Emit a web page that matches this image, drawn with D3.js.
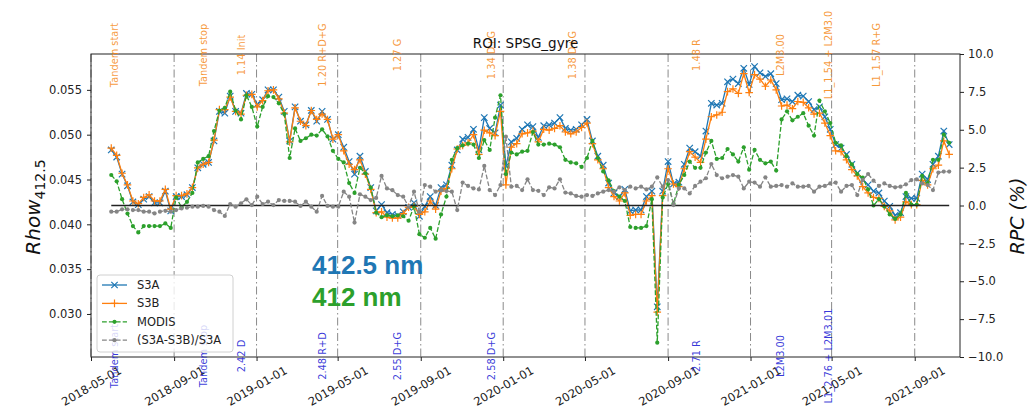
<!DOCTYPE html>
<html>
<head>
<meta charset="utf-8">
<script src="https://cdn.jsdelivr.net/npm/d3@7"></script>
<style>
  body { margin: 0; background: #fff; }
  svg { display: block; font-family: "DejaVu Sans", sans-serif; }
</style>
</head>
<body>
<svg width="1033" height="408"></svg>
<script>
"use strict";

// 8-day composites starting at this date
const firstDate = "2018-05-31";
const stepDays = 8;

const s3a = [
  0.0483, 0.0475, 0.0456, 0.0443, 0.0425, 0.0422, 0.0428, 0.0431, 0.0424, 0.0424,
  0.0437, 0.0415, 0.0431, 0.0431, 0.0433, 0.0441, 0.0463, 0.0467, 0.0469, 0.0493,
  0.0526, 0.0524, 0.0543, 0.0526, 0.0524, 0.0546, 0.0545, 0.0534, 0.0539, 0.0550,
  0.0550, 0.0542, 0.0526, 0.0493, 0.0531, 0.0515, 0.0511, 0.0527, 0.0515, 0.0526,
  0.0517, 0.0495, 0.0500, 0.0486, 0.0470, 0.0456, 0.0476, 0.0459, 0.0441, 0.0415,
  0.0422, 0.0413, 0.0411, 0.0410, 0.0414, 0.0419, 0.0424, 0.0409, 0.0420, 0.0431,
  0.0421, 0.0441, 0.0444, 0.0466, 0.0483, 0.0495, 0.0497, 0.0506, 0.0483, 0.0519,
  0.0507, 0.0502, 0.0533, 0.0465, 0.0492, 0.0496, 0.0506, 0.0511, 0.0509, 0.0497,
  0.0510, 0.0511, 0.0513, 0.0519, 0.0507, 0.0505, 0.0506, 0.0511, 0.0517, 0.0493,
  0.0476, 0.0466, 0.0446, 0.0435, 0.0431, 0.0439, 0.0415, 0.0416, 0.0416, 0.0431,
  0.0437, 0.0308, 0.0437, 0.0470, 0.0445, 0.0447, 0.0467, 0.0485, 0.0481, 0.0476,
  0.0504, 0.0535, 0.0533, 0.0535, 0.0559, 0.0562, 0.0557, 0.0574, 0.0556, 0.0576,
  0.0569, 0.0565, 0.0568, 0.0557, 0.0539, 0.0540, 0.0537, 0.0544, 0.0543, 0.0537,
  0.0528, 0.0531, 0.0520, 0.0506, 0.0489, 0.0485, 0.0478, 0.0467, 0.0457, 0.0450,
  0.0444, 0.0437, 0.0435, 0.0426, 0.0420, 0.0410, 0.0413, 0.0431, 0.0429, 0.0429,
  0.0456, 0.0450, 0.0467, 0.0476, 0.0504, 0.0489
];

const s3b = [
  0.0485, 0.0477, 0.0457, 0.0444, 0.0426, 0.0423, 0.0430, 0.0433, 0.0426, 0.0426,
  0.0439, 0.0417, 0.0432, 0.0432, 0.0434, 0.0441, 0.0463, 0.0467, 0.0469, 0.0494,
  0.0528, 0.0528, 0.0542, 0.0526, 0.0523, 0.0544, 0.0545, 0.0531, 0.0538, 0.0549,
  0.0550, 0.0540, 0.0524, 0.0492, 0.0530, 0.0515, 0.0510, 0.0527, 0.0517, 0.0523,
  0.0517, 0.0495, 0.0500, 0.0482, 0.0467, 0.0461, 0.0472, 0.0456, 0.0439, 0.0413,
  0.0414, 0.0408, 0.0407, 0.0407, 0.0412, 0.0419, 0.0420, 0.0411, 0.0414, 0.0426,
  0.0417, 0.0437, 0.0440, 0.0462, 0.0484, 0.0488, 0.0491, 0.0500, 0.0478, 0.0505,
  0.0502, 0.0499, 0.0526, 0.0444, 0.0486, 0.0490, 0.0501, 0.0502, 0.0504, 0.0492,
  0.0506, 0.0505, 0.0507, 0.0510, 0.0503, 0.0501, 0.0503, 0.0508, 0.0513, 0.0490,
  0.0472, 0.0462, 0.0441, 0.0431, 0.0426, 0.0435, 0.0410, 0.0411, 0.0411, 0.0426,
  0.0432, 0.0302, 0.0432, 0.0462, 0.0445, 0.0442, 0.0462, 0.0481, 0.0475, 0.0469,
  0.0495, 0.0520, 0.0522, 0.0525, 0.0548, 0.0551, 0.0546, 0.0568, 0.0547, 0.0567,
  0.0562, 0.0554, 0.0561, 0.0550, 0.0532, 0.0533, 0.0529, 0.0537, 0.0536, 0.0530,
  0.0523, 0.0524, 0.0513, 0.0499, 0.0482, 0.0481, 0.0472, 0.0461, 0.0454, 0.0442,
  0.0435, 0.0430, 0.0429, 0.0420, 0.0415, 0.0405, 0.0408, 0.0425, 0.0422, 0.0422,
  0.0449, 0.0444, 0.0462, 0.0466, 0.0493, 0.0478
];

const modis = [
  0.0455, 0.0448, 0.0428, 0.0412, 0.0398, 0.0391, 0.0398, 0.0398, 0.0398, 0.0398,
  0.0401, 0.0396, 0.0430, 0.0419, 0.0425, 0.0435, 0.0469, 0.0473, 0.0476, 0.0504,
  0.0527, 0.0530, 0.0548, 0.0527, 0.0517, 0.0544, 0.0531, 0.0509, 0.0531, 0.0543,
  0.0542, 0.0535, 0.0523, 0.0474, 0.0507, 0.0493, 0.0496, 0.0500, 0.0499, 0.0506,
  0.0498, 0.0482, 0.0473, 0.0469, 0.0446, 0.0435, 0.0463, 0.0457, 0.0441, 0.0413,
  0.0408, 0.0410, 0.0409, 0.0410, 0.0409, 0.0404, 0.0420, 0.0389, 0.0385, 0.0396,
  0.0384, 0.0411, 0.0431, 0.0472, 0.0485, 0.0488, 0.0490, 0.0489, 0.0474, 0.0494,
  0.0483, 0.0519, 0.0544, 0.0456, 0.0480, 0.0478, 0.0481, 0.0482, 0.0503, 0.0489,
  0.0489, 0.0490, 0.0489, 0.0486, 0.0472, 0.0469, 0.0468, 0.0464, 0.0474, 0.0493,
  0.0474, 0.0459, 0.0449, 0.0437, 0.0431, 0.0426, 0.0397, 0.0396, 0.0396, 0.0398,
  0.0428, 0.0268, 0.0430, 0.0445, 0.0423, 0.0444, 0.0455, 0.0470, 0.0463, 0.0463,
  0.0480, 0.0493, 0.0473, 0.0474, 0.0484, 0.0478, 0.0470, 0.0486, 0.0461, 0.0483,
  0.0472, 0.0468, 0.0470, 0.0460, 0.0517, 0.0526, 0.0516, 0.0520, 0.0524, 0.0510,
  0.0499, 0.0538, 0.0526, 0.0513, 0.0491, 0.0488, 0.0476, 0.0467, 0.0456, 0.0452,
  0.0439, 0.0421, 0.0428, 0.0420, 0.0411, 0.0406, 0.0411, 0.0435, 0.0422, 0.0422,
  0.0454, 0.0446, 0.0472, 0.0472, 0.0500, 0.0491
];

// (S3A-S3B)/S3A in %, right axis
const rpc = [
  -0.41, -0.41, -0.25, -0.25, -0.30, -0.30, -0.41, -0.41, -0.52, -0.41,
  -0.35, -0.41, -0.30, -0.19, -0.15, -0.08, -0.08, -0.03, -0.08, -0.30,
  -0.41, -0.69, 0.10, -0.08, 0.15, 0.41, 0.03, 0.58, 0.10, 0.25,
  0.03, 0.36, 0.30, 0.30, 0.25, -0.03, 0.25, -0.08, -0.41, 0.63,
  -0.03, -0.08, -0.08, 0.91, 0.58, -1.13, 0.74, 0.58, 0.36, 0.50,
  1.95, 1.13, 1.01, 0.69, 0.58, -0.08, 0.91, -0.41, 1.35, 1.24,
  0.91, 0.99, 0.95, 0.91, -0.30, 1.51, 1.29, 1.13, 1.06, 2.61,
  1.02, 0.69, 1.35, 4.54, 1.24, 1.29, 1.02, 1.73, 1.02, 0.97,
  0.69, 1.20, 1.13, 1.73, 0.85, 0.80, 0.63, 0.58, 0.69, 0.63,
  0.80, 0.91, 1.02, 0.91, 1.20, 1.02, 1.24, 1.13, 1.24, 1.06,
  1.24, 1.86, 1.24, 1.68, 0.03, 1.13, 1.13, 0.80, 1.29, 1.57,
  1.80, 2.74, 2.01, 1.80, 1.90, 2.01, 1.90, 1.13, 1.57, 1.51,
  1.24, 1.86, 1.24, 1.29, 1.35, 1.24, 1.46, 1.24, 1.24, 1.29,
  0.91, 1.24, 1.29, 1.46, 1.51, 0.91, 1.29, 1.35, 0.69, 1.68,
  2.08, 1.64, 1.29, 1.46, 1.29, 1.20, 1.24, 1.40, 1.68, 1.73,
  1.46, 1.35, 1.02, 2.17, 2.24, 2.24
];

// processing events: S3A labels on top, S3B labels below
const eventDates = ["2018-06-05", "2018-10-14", "2018-12-10", "2019-04-09", "2019-07-29",
  "2019-12-15", "2020-04-13", "2020-10-13", "2021-02-14", "2021-04-26", "2021-07-06"];
const topLabels = ["Tandem start", "Tandem stop", "1.14 Init", "1.20 R+D+G", "1.27 G",
  "1.34 D+G", "1.38 D+G", "1.48 R", "L2M3.00", "L1_1.54 + L2M3.0", "L1_1.57 R+G"];
const bottomLabels = ["Tandem start", "Tandem stop", "2.42 D", "2.48 R+D", "2.55 D+G",
  "2.58 D+G", null, "2.71 R", "L2M3.00", "L1_2.76 + L2M3.01", null];

const leftTicks = [0.030, 0.035, 0.040, 0.045, 0.050, 0.055];
const rightTicks = [-10, -7.5, -5, -2.5, 0, 2.5, 5, 7.5, 10];
const seriesNames = ["S3A", "S3B", "MODIS", "(S3A-S3B)/S3A"];

const svg = d3.select("svg");
// plot box in pixels
const pL = 91, pR = 960, pT = 54, pB = 357;

const parse = d3.utcParse("%Y-%m-%d");
const start = parse(firstDate);
const dates = s3a.map((_, i) => d3.utcDay.offset(start, i * stepDays));

const xScale = d3.scaleUtc()
  .domain([parse("2018-05-01"), parse("2021-11-07")])
  .range([pL, pR]);
const yLeft = d3.scaleLinear().domain([0.0252, 0.0590]).range([pB, pT]);
const yRight = d3.scaleLinear().domain([-10, 10]).range([pB, pT]);

const xTicks = xScale.ticks(d3.utcMonth.every(4));

// dash-dot grid at every date tick
svg.append("g")
  .selectAll("line")
  .data(xTicks)
  .enter()
  .append("line")
  .attr("x1", (d) => xScale(d))
  .attr("x2", (d) => xScale(d))
  .attr("y1", pT)
  .attr("y2", pB)
  .attr("stroke", "#8a8a8a")
  .attr("stroke-width", 1)
  .attr("stroke-dasharray", "8,3,1.5,3");

// marker shapes, matplotlib style
const markers = {
  x: "M-3.2,-3.2L3.2,3.2M-3.2,3.2L3.2,-3.2",
  plus: "M-3.8,0L3.8,0M0,-3.8L0,3.8"
};

const series = [
  { name: seriesNames[0], values: s3a, y: yLeft, color: "#1f77b4", dash: null, marker: "x" },
  { name: seriesNames[1], values: s3b, y: yLeft, color: "#ff7f0e", dash: null, marker: "plus" },
  { name: seriesNames[2], values: modis, y: yLeft, color: "#2ca02c", dash: "4.8,2.1", marker: "dot" },
  { name: seriesNames[3], values: rpc, y: yRight, color: "#858585", dash: "4.8,2.1", marker: "dot" }
];

function drawSeries(g, s) {
  const pts = s.values.map((v, i) => ({ date: dates[i], v: v }));
  const line = d3.line().x((d) => xScale(d.date)).y((d) => s.y(d.v));
  g.append("path")
    .datum(pts)
    .attr("d", line)
    .attr("fill", "none")
    .attr("stroke", s.color)
    .attr("stroke-width", 1.3)
    .attr("stroke-dasharray", s.dash);
  if (s.marker === "dot") {
    g.selectAll("circle.m")
      .data(pts)
      .enter()
      .append("circle")
      .attr("cx", (d) => xScale(d.date))
      .attr("cy", (d) => s.y(d.v))
      .attr("r", 2.1)
      .attr("fill", s.color);
  } else {
    g.selectAll("path.m")
      .data(pts)
      .enter()
      .append("path")
      .attr("class", "m")
      .attr("transform", (d) => `translate(${xScale(d.date)},${s.y(d.v)})`)
      .attr("d", markers[s.marker])
      .attr("stroke", s.color)
      .attr("stroke-width", 1.2);
  }
}

const plot = svg.append("g");
series.slice(0, 3).forEach((s) => drawSeries(plot.append("g"), s));

// right axis: zero line then the ratio
plot.append("line")
  .attr("x1", xScale(dates[0]))
  .attr("x2", xScale(dates[dates.length - 1]))
  .attr("y1", yRight(0))
  .attr("y2", yRight(0))
  .attr("stroke", "#222")
  .attr("stroke-width", 1.4);
drawSeries(plot.append("g"), series[3]);

// axes
const xAxis = d3.axisBottom(xScale)
  .tickValues(xTicks)
  .tickFormat(d3.utcFormat("%Y-%m-%d"))
  .tickSize(4);
const xg = svg.append("g")
  .attr("transform", `translate(0, ${pB})`)
  .call(xAxis);
xg.selectAll("text")
  .attr("y", 0)
  .attr("dy", 0)
  .attr("text-anchor", "middle")
  .attr("dominant-baseline", "central")
  .attr("transform", "translate(0, 29) rotate(-30)");

const yAxisL = d3.axisLeft(yLeft).tickValues(leftTicks).tickFormat(d3.format(".3f")).tickSize(4).tickPadding(5);
svg.append("g").attr("transform", `translate(${pL}, 0)`).call(yAxisL);

const yAxisR = d3.axisRight(yRight).tickValues(rightTicks).tickFormat(d3.format(".1f")).tickSize(4).tickPadding(4);
svg.append("g").attr("transform", `translate(${pR}, 0)`).call(yAxisR);

svg.selectAll(".domain").remove();
svg.selectAll(".tick text").attr("font-size", 11.5).attr("fill", "#222").attr("font-family", "DejaVu Sans");
svg.selectAll(".tick line").attr("stroke", "#222");

svg.append("rect")
  .attr("x", pL)
  .attr("y", pT)
  .attr("width", pR - pL)
  .attr("height", pB - pT)
  .attr("fill", "none")
  .attr("stroke", "#222")
  .attr("stroke-width", 1);

// event annotations
const events = eventDates.map((d, i) => ({ date: parse(d), up: topLabels[i], down: bottomLabels[i] }));
svg.append("g")
  .selectAll("text")
  .data(events)
  .enter()
  .append("text")
  .attr("transform", (d) => `translate(${xScale(d.date)}, ${pT + 1}) rotate(-90)`)
  .attr("text-anchor", "middle")
  .attr("dominant-baseline", "central")
  .attr("font-size", 9.8)
  .attr("fill", "rgba(245,135,20,0.85)")
  .text((d) => d.up);

svg.append("g")
  .selectAll("text")
  .data(events.filter((d) => d.down))
  .enter()
  .append("text")
  .attr("transform", (d) => `translate(${xScale(d.date)}, ${pB - 1}) rotate(-90)`)
  .attr("text-anchor", "middle")
  .attr("dominant-baseline", "central")
  .attr("font-size", 9.8)
  .attr("fill", "rgba(20,20,210,0.85)")
  .text((d) => d.down);

// title and axis labels
svg.append("text")
  .attr("x", (pL + pR) / 2)
  .attr("y", 48)
  .attr("text-anchor", "middle")
  .attr("font-size", 13.5)
  .attr("fill", "#111")
  .text("ROI: SPSG_gyre");

const yl = svg.append("text")
  .attr("transform", "translate(40, 207) rotate(-90)")
  .attr("text-anchor", "middle")
  .attr("font-size", 20)
  .attr("font-style", "italic")
  .attr("fill", "#111");
yl.append("tspan").text("Rhow");
yl.append("tspan").attr("font-size", 14).attr("font-style", "normal").attr("dy", 5).text("412.5");

svg.append("text")
  .attr("transform", "translate(1024, 216) rotate(-90)")
  .attr("text-anchor", "middle")
  .attr("font-size", 19)
  .attr("font-style", "italic")
  .attr("fill", "#111")
  .text("RPC (%)");

// band annotations
svg.append("text")
  .attr("x", 312).attr("y", 274)
  .attr("font-family", "Liberation Sans, Arial, sans-serif")
  .attr("font-weight", "bold").attr("font-size", 26)
  .attr("fill", "#1f77b4")
  .text("412.5 nm");
svg.append("text")
  .attr("x", 312).attr("y", 306)
  .attr("font-family", "Liberation Sans, Arial, sans-serif")
  .attr("font-weight", "bold").attr("font-size", 26)
  .attr("fill", "#2ca02c")
  .text("412 nm");

// legend
const legend = svg.append("g");
legend.append("rect")
  .attr("x", 97).attr("y", 275)
  .attr("width", 136).attr("height", 77)
  .attr("rx", 3)
  .attr("fill", "rgba(255,255,255,0.8)")
  .attr("stroke", "#d0d0d0");
series.forEach((s, i) => {
  const yy = 285 + i * 18.4;
  const row = legend.append("g");
  row.append("line")
    .attr("x1", 102).attr("x2", 127)
    .attr("y1", yy).attr("y2", yy)
    .attr("stroke", s.color)
    .attr("stroke-width", 1.3)
    .attr("stroke-dasharray", s.dash);
  if (s.marker === "dot") {
    row.append("circle").attr("cx", 114.5).attr("cy", yy).attr("r", 2.1).attr("fill", s.color);
  } else {
    row.append("path")
      .attr("transform", `translate(114.5, ${yy})`)
      .attr("d", markers[s.marker])
      .attr("stroke", s.color)
      .attr("stroke-width", 1.2);
  }
  row.append("text")
    .attr("x", 137).attr("y", yy)
    .attr("dominant-baseline", "central")
    .attr("font-size", 11.5)
    .attr("fill", "#222")
    .text(s.name);
});
</script>
</body>
</html>
